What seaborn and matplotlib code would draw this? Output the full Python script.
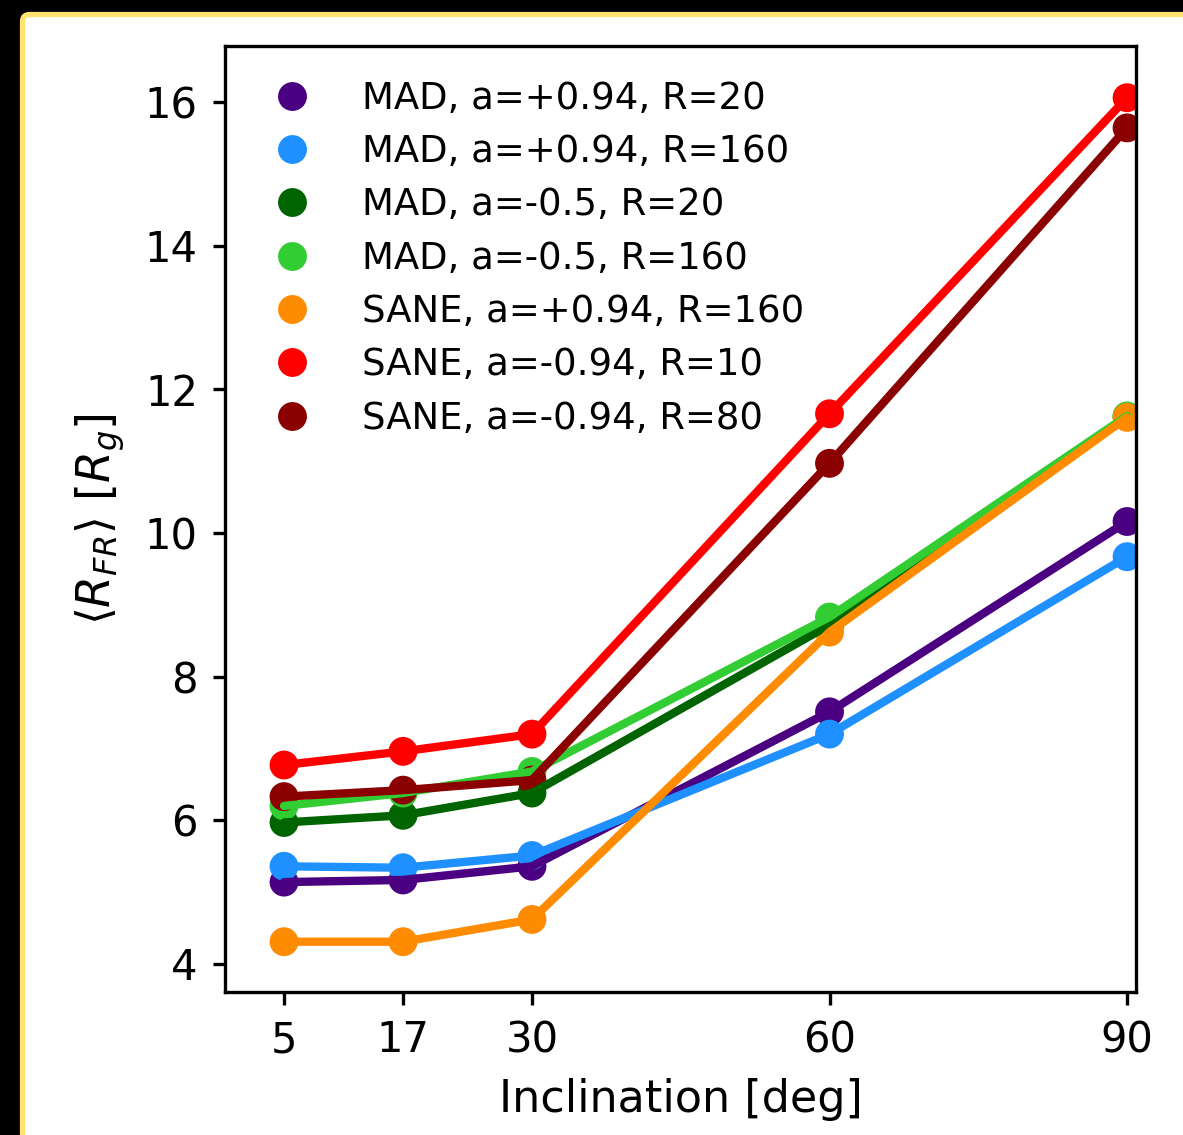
import matplotlib
matplotlib.use("Agg")
import matplotlib.pyplot as plt
from matplotlib.patches import FancyBboxPatch
import seaborn as sns
import pandas as pd

inclinations = [5, 17, 30, 60, 90]
labels = [
    "MAD, a=+0.94, R=20",
    "MAD, a=+0.94, R=160",
    "MAD, a=-0.5, R=20",
    "MAD, a=-0.5, R=160",
    "SANE, a=+0.94, R=160",
    "SANE, a=-0.94, R=10",
    "SANE, a=-0.94, R=80",
]
mad_p094_r20 = [5.14, 5.17, 5.36, 7.51, 10.16]
mad_p094_r160 = [5.36, 5.34, 5.51, 7.20, 9.67]
mad_m05_r20 = [5.97, 6.07, 6.38, 8.72, 11.62]
mad_m05_r160 = [6.20, 6.38, 6.68, 8.83, 11.63]
sane_p094_r160 = [4.31, 4.31, 4.62, 8.62, 11.61]
sane_m094_r10 = [6.77, 6.96, 7.20, 11.66, 16.06]
sane_m094_r80 = [6.33, 6.42, 6.56, 10.97, 15.64]
series = [mad_p094_r20, mad_p094_r160, mad_m05_r20, mad_m05_r160,
          sane_p094_r160, sane_m094_r10, sane_m094_r80]
colors = ["#4B0082", "#1E90FF", "#006400", "#32CD32", "#FF8C00", "#FF0000", "#8B0000"]
yticks = [4, 6, 8, 10, 12, 14, 16]

rows = []
for lab, vals in zip(labels, series):
    for x, y in zip(inclinations, vals):
        rows.append({"inc": x, "r": y, "model": lab})
df = pd.DataFrame(rows)

sns.set_theme(style="ticks")
plt.rcParams["font.family"] = ["DejaVu Sans"]
plt.rcParams["mathtext.fontset"] = "dejavusans"

W, H, DPI = 1183, 1135, 300
fig = plt.figure(figsize=(W / DPI, H / DPI), dpi=DPI)
fig.patch.set_facecolor("black")
frame = FancyBboxPatch((22.5 / W, -0.2), 1.2, 1.2 - 14.5 / H,
                       boxstyle="round,pad=0,rounding_size=0.006",
                       transform=fig.transFigure, facecolor="white",
                       edgecolor="#FFE270", linewidth=1.25, zorder=-10)
fig.patches.append(frame)

ax = fig.add_axes([225 / W, 1 - 992 / H, (1136 - 225) / W, (992 - 46) / H])
ax.set_zorder(5)
ax.set_facecolor("white")
palette = dict(zip(labels, colors))

sns.scatterplot(data=df, x="inc", y="r", hue="model", hue_order=labels,
                palette=palette, s=48, linewidth=0, ax=ax, zorder=1)
sns.lineplot(data=df, x="inc", y="r", hue="model", hue_order=labels,
             palette=palette, linewidth=2, ax=ax, legend=False, zorder=2)

ax.set_xlim(-0.95, 90.9)
ax.set_ylim(3.61, 16.78)
ax.set_xticks(inclinations)
ax.set_yticks(yticks)
ax.tick_params(labelsize=10, length=3, width=0.8, color="black", labelcolor="black")
for sp in ax.spines.values():
    sp.set_color("black")
    sp.set_linewidth(0.8)
ax.set_xlabel("Inclination [deg]", fontsize=10.7, color="black", labelpad=4)
ax.set_ylabel(r"$\langle R_{FR} \rangle$ [$R_g$]", fontsize=11, color="black", labelpad=4.4)

leg = ax.legend(loc="upper left", bbox_to_anchor=(2 / 911, 1 - 6 / 946), frameon=False,
                fontsize=8.9, handletextpad=0.9, labelspacing=0.44,
                borderaxespad=0.35, markerscale=1.0)
for t in leg.get_texts():
    t.set_color("black")

fig.savefig("out.png", dpi=DPI, facecolor=fig.get_facecolor())
